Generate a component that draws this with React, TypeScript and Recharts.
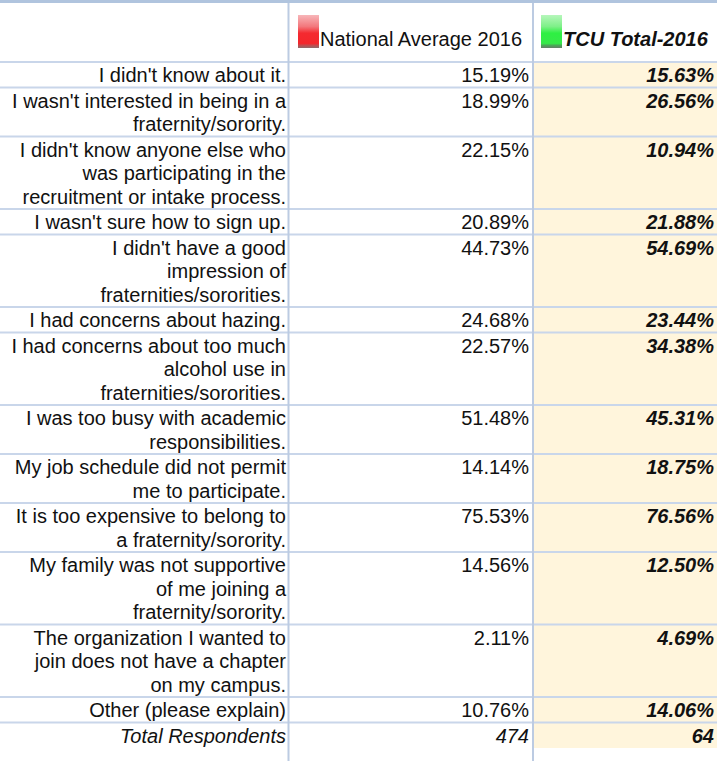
import {
  ReferenceArea,
  ReferenceLine,
  Scatter,
  ScatterChart,
  XAxis,
  YAxis,
} from "recharts";

// reasons, wrapped as in the source table
const reasons: string[][] = [
  ["I didn't know about it."],
  ["I wasn't interested in being in a", "fraternity/sorority."],
  ["I didn't know anyone else who", "was participating in the", "recruitment or intake process."],
  ["I wasn't sure how to sign up."],
  ["I didn't have a good", "impression of", "fraternities/sororities."],
  ["I had concerns about hazing."],
  ["I had concerns about too much", "alcohol use in", "fraternities/sororities."],
  ["I was too busy with academic", "responsibilities."],
  ["My job schedule did not permit", "me to participate."],
  ["It is too expensive to belong to", "a fraternity/sorority."],
  ["My family was not supportive", "of me joining a", "fraternity/sorority."],
  ["The organization I wanted to", "join does not have a chapter", "on my campus."],
  ["Other (please explain)"],
];

const nationalAverage = [
  15.19, 18.99, 22.15, 20.89, 44.73, 24.68, 22.57, 51.48, 14.14, 75.53, 14.56, 2.11, 10.76,
];
const tcuTotal = [
  15.63, 26.56, 10.94, 21.88, 54.69, 23.44, 34.38, 45.31, 18.75, 76.56, 12.5, 4.69, 14.06,
];

const totalLabel = "Total Respondents";
const totalRespondents = [474, 64];
const seriesNames = ["National Average 2016", "TCU Total-2016"];

const W = 717;
const H = 761;
const FONT = '"Liberation Sans", Arial, sans-serif';
const LINE = 23.5;
const PAD = 2;
const HEADER_BOTTOM = 62;
const COL_LABEL = 286;
const COL_NAT = 529;
const COL_TCU = 714;
const DIV_1 = 288.5;
const DIV_2 = 533;
const SWATCH_X = [298, 541];
const GRID = "#c9d6ea";

const pct = (v: number) => `${v.toFixed(2)}%`;

type Row = { lines: string[]; nat: string; tcu: string; total: boolean; top: number };

const rows: Row[] = [];
let cursor = HEADER_BOTTOM;
reasons.forEach((lines, i) => {
  rows.push({ lines, nat: pct(nationalAverage[i]), tcu: pct(tcuTotal[i]), total: false, top: cursor });
  cursor += lines.length * LINE + PAD;
});
rows.push({
  lines: [totalLabel],
  nat: String(totalRespondents[0]),
  tcu: String(totalRespondents[1]),
  total: true,
  top: cursor,
});
const tableBottom = cursor + LINE + PAD;
const boundaries = rows.map((r) => r.top);

const labelData = rows.map((r) => ({ x: COL_LABEL, y: r.top, row: r }));
const natData = rows.map((r) => ({ x: COL_NAT, y: r.top, row: r }));
const tcuData = rows.map((r) => ({ x: COL_TCU, y: r.top, row: r }));
const headerData = seriesNames.map((name, i) => ({ x: SWATCH_X[i], y: 15, name, idx: i }));

const LabelCell = (props: any) => {
  const { cx, cy, payload } = props;
  const row: Row = payload.row;
  return (
    <g>
      {row.lines.map((t, i) => (
        <text
          key={i}
          x={cx}
          y={cy + 20 + i * LINE}
          textAnchor="end"
          fontFamily={FONT}
          fontSize={20}
          fontStyle={row.total ? "italic" : "normal"}
          fill="#111"
        >
          {t}
        </text>
      ))}
    </g>
  );
};

const NatCell = (props: any) => {
  const { cx, cy, payload } = props;
  const row: Row = payload.row;
  return (
    <text
      x={cx}
      y={cy + 20}
      textAnchor="end"
      fontFamily={FONT}
      fontSize={20}
      fontStyle={row.total ? "italic" : "normal"}
      fill="#111"
    >
      {row.nat}
    </text>
  );
};

const TcuCell = (props: any) => {
  const { cx, cy, payload } = props;
  const row: Row = payload.row;
  return (
    <text
      x={cx}
      y={cy + 20}
      textAnchor="end"
      fontFamily={FONT}
      fontSize={20}
      fontStyle="italic"
      fontWeight="bold"
      fill="#111"
    >
      {row.tcu}
    </text>
  );
};

const HeaderCell = (props: any) => {
  const { cx, cy, payload } = props;
  const tcu = payload.idx === 1;
  return (
    <g>
      <rect x={cx} y={cy} width={21} height={33} fill={`url(#swatch${payload.idx})`} />
      <text
        x={cx + 22}
        y={cy + 31}
        fontFamily={FONT}
        fontSize={20}
        fontStyle={tcu ? "italic" : "normal"}
        fontWeight={tcu ? "bold" : "normal"}
        fill="#111"
      >
        {payload.name}
      </text>
    </g>
  );
};

export default function App() {
  return (
    <div style={{ position: "absolute", left: 0, top: 0, background: "#fff" }}>
      <ScatterChart width={W} height={H} margin={{ top: 0, right: 0, bottom: 0, left: 0 }}>
        <defs>
          <linearGradient id="swatch0" x1="0" y1="0" x2="0" y2="1">
            <stop offset="0%" stopColor="#f7b6b9" />
            <stop offset="35%" stopColor="#f3777c" />
            <stop offset="55%" stopColor="#f42a30" />
            <stop offset="86%" stopColor="#f4262b" />
            <stop offset="92%" stopColor="#c24a4d" />
            <stop offset="100%" stopColor="#8e6a6a" />
          </linearGradient>
          <linearGradient id="swatch1" x1="0" y1="0" x2="0" y2="1">
            <stop offset="0%" stopColor="#b6f6bb" />
            <stop offset="35%" stopColor="#7ef088" />
            <stop offset="55%" stopColor="#2ef043" />
            <stop offset="86%" stopColor="#36e949" />
            <stop offset="92%" stopColor="#4aa857" />
            <stop offset="100%" stopColor="#667d69" />
          </linearGradient>
        </defs>
        <XAxis type="number" dataKey="x" domain={[0, W]} hide />
        <YAxis type="number" dataKey="y" domain={[0, H]} reversed hide />
        <ReferenceArea
          x1={DIV_2}
          x2={W}
          y1={HEADER_BOTTOM}
          y2={tableBottom}
          fill="#fff5dc"
          fillOpacity={1}
          stroke="none"
        />
        {boundaries.map((b) => (
          <ReferenceLine key={b} y={b} stroke={GRID} strokeWidth={2} />
        ))}
        <ReferenceLine x={DIV_1} stroke="#bccbe2" strokeWidth={2} />
        <ReferenceLine x={DIV_2} stroke="#bccbe2" strokeWidth={2} />
        <ReferenceLine y={1.5} stroke="#b0c4de" strokeWidth={3} />
        <Scatter data={headerData} shape={HeaderCell} isAnimationActive={false} />
        <Scatter data={labelData} shape={LabelCell} isAnimationActive={false} />
        <Scatter data={natData} shape={NatCell} isAnimationActive={false} />
        <Scatter data={tcuData} shape={TcuCell} isAnimationActive={false} />
      </ScatterChart>
    </div>
  );
}
